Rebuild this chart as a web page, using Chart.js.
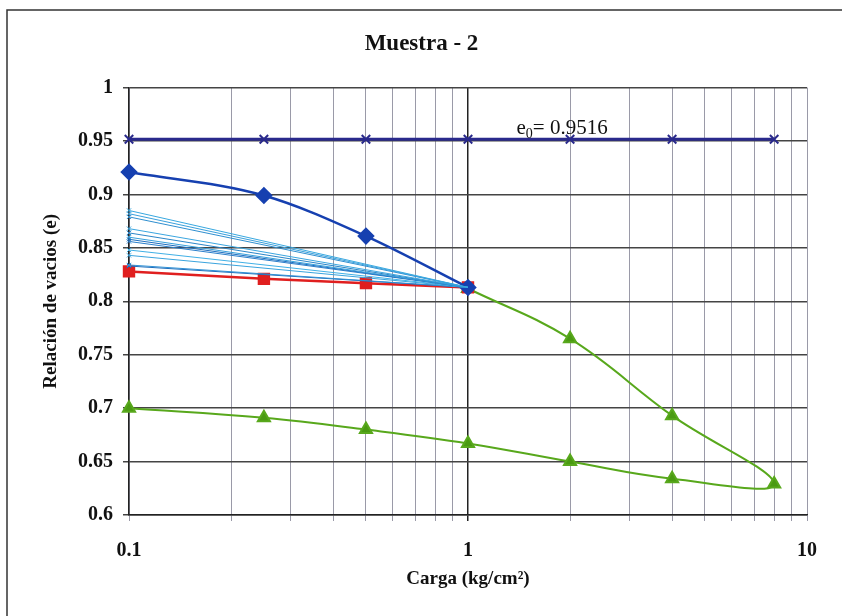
<!DOCTYPE html>
<html>
<head>
<meta charset="utf-8">
<script src="https://cdn.jsdelivr.net/npm/chart.js@4/dist/chart.umd.min.js"></script>
<style>
  html, body { margin: 0; padding: 0; background: #fff; }
  #wrap { width: 842px; height: 616px; position: relative; }
</style>
</head>
<body>
<div id="wrap"><canvas id="chart" width="842" height="616"></canvas></div>
<script>
// carga (kg/cm2)
const cargaInicial = [0.1, 0.25, 0.5, 1, 2, 4, 8];
const e0Valores = [0.9516, 0.9516, 0.9516, 0.9516, 0.9516, 0.9516, 0.9516];

const cargaCarga1 = [0.1, 0.25, 0.5, 1];
const eCarga1 = [0.921, 0.899, 0.861, 0.813];

const cargaDescarga1 = [0.1, 0.25, 0.5, 1];
const eDescarga1 = [0.828, 0.821, 0.817, 0.813];

const cargaRecarga = [1, 2, 4, 8, 4, 2, 1, 0.5, 0.25, 0.1];
const eRecarga = [0.812, 0.765, 0.693, 0.629, 0.634, 0.650, 0.667, 0.680, 0.691, 0.700];

// lineas finas desde 0.1 hasta 1
const eLineasIniciales = [0.885, 0.882, 0.879, 0.868, 0.864, 0.860, 0.858, 0.856, 0.848, 0.843, 0.834, 0.833];
const eLineasFinal = 0.813;
const coloresLineas = ["#38a8e0", "#3aa0dc", "#2f8fd0", "#3ba6e0", "#2b86c8", "#36a0dc", "#1f6fc0", "#2a7fcc", "#40b0e6", "#3aa4de", "#2f90d4", "#1e6cbc"];

const ticksX = [0.1, 0.2, 0.3, 0.4, 0.5, 0.6, 0.7, 0.8, 0.9, 1, 2, 3, 4, 5, 6, 7, 8, 9, 10];
const etiquetasX = { 0.1: "0.1", 1: "1", 10: "10" };

const fuente = "'Liberation Serif', 'Times New Roman', serif";

function pares(xs, ys) {
  return xs.map((x, i) => ({ x: x, y: ys[i] }));
}

const datasets = [];

eLineasIniciales.forEach((e, i) => {
  datasets.push({
    data: pares([0.1, 1], [e, eLineasFinal]),
    borderColor: coloresLineas[i],
    backgroundColor: coloresLineas[i],
    borderWidth: 1,
    pointStyle: "crossRot",
    pointRadius: [3, 0],
    pointBorderWidth: 1,
    clip: false,
  });
});

datasets.push({
  data: pares(cargaInicial, e0Valores),
  borderColor: "#2a2a8c",
  backgroundColor: "#2a2a8c",
  borderWidth: 3,
  pointStyle: "crossRot",
  pointRadius: 6,
  pointBorderWidth: 2,
  clip: false,
});

datasets.push({
  data: pares(cargaCarga1, eCarga1),
  borderColor: "#1640b0",
  backgroundColor: "#1640b0",
  borderWidth: 2.5,
  pointStyle: "rectRot",
  pointRadius: 7,
  cubicInterpolationMode: "monotone",
  clip: false,
});

datasets.push({
  data: pares(cargaDescarga1, eDescarga1),
  borderColor: "#e01f1f",
  backgroundColor: "#e01f1f",
  borderWidth: 2.5,
  pointStyle: "rect",
  pointRadius: 7,
  clip: false,
});

datasets.push({
  data: pares(cargaRecarga, eRecarga),
  borderColor: "#58a81c",
  backgroundColor: "#4a9a12",
  borderWidth: 2,
  pointStyle: "triangle",
  pointRadius: 7,
  tension: 0.4,
  clip: false,
});

const marco = {
  id: "marco",
  beforeDraw(chart) {
    const ctx = chart.ctx;
    ctx.save();
    ctx.fillStyle = "#fff";
    ctx.fillRect(0, 0, chart.width, chart.height);
    ctx.strokeStyle = "#333";
    ctx.lineWidth = 1.5;
    ctx.beginPath();
    ctx.moveTo(7, 616);
    ctx.lineTo(7, 10);
    ctx.lineTo(842, 10);
    ctx.stroke();
    ctx.restore();
  },
  afterDatasetsDraw(chart) {
    const ctx = chart.ctx;
    const x = chart.scales.x.getPixelForValue(1.39);
    const y = chart.scales.y.getPixelForValue(0.9565);
    ctx.save();
    ctx.fillStyle = "#111";
    ctx.font = "21px " + fuente;
    ctx.textBaseline = "alphabetic";
    ctx.fillText("e", x, y);
    const w = ctx.measureText("e").width;
    ctx.font = "14px " + fuente;
    ctx.fillText("0", x + w, y + 4);
    const w2 = ctx.measureText("0").width;
    ctx.font = "21px " + fuente;
    ctx.fillText("= 0.9516", x + w + w2, y);
    ctx.restore();
  }
};

new Chart(document.getElementById("chart"), {
  type: "line",
  data: { datasets: datasets },
  plugins: [marco],
  options: {
    responsive: false,
    animation: false,
    layout: { padding: { top: 3, right: 35, left: 36, bottom: 26 } },
    plugins: {
      legend: { display: false },
      tooltip: { enabled: false },
      title: {
        display: true,
        text: "Muestra - 2",
        color: "#111",
        font: { family: fuente, size: 23, weight: "bold" },
        padding: { top: 27, bottom: 30 },
      },
    },
    scales: {
      x: {
        type: "logarithmic",
        min: 0.1,
        max: 10,
        afterBuildTicks(scale) {
          scale.ticks = ticksX.map(v => ({ value: v }));
        },
        afterFit(scale) { scale.height = 75; },
        ticks: {
          autoSkip: false,
          maxRotation: 0,
          color: "#111",
          padding: 18,
          font: { family: fuente, size: 20, weight: "bold" },
          callback: (v) => etiquetasX[v] || "",
        },
        grid: {
          color: (c) => (c.tick && c.tick.value === 1 ? "#222" : "#9a9aa8"),
          lineWidth: (c) => (c.tick && c.tick.value === 1 ? 1.5 : 1),
          tickLength: 6,
        },
        border: { color: "#222", width: 1.5 },
        title: {
          display: true,
          text: "Carga (kg/cm²)",
          color: "#111",
          font: { family: fuente, size: 19, weight: "bold" },
          padding: { top: 4, bottom: 0 },
        },
      },
      y: {
        min: 0.6,
        max: 1,
        afterFit(scale) { scale.width = 93; },
        ticks: {
          stepSize: 0.05,
          color: "#111",
          padding: 10,
          font: { family: fuente, size: 20, weight: "bold" },
          callback: (v) => String(Math.round(v * 100) / 100),
        },
        grid: {
          color: "#444",
          lineWidth: 1.5,
          tickLength: 6,
        },
        border: { color: "#222", width: 1.5 },
        title: {
          display: true,
          text: "Relación de vacios (e)",
          color: "#111",
          font: { family: fuente, size: 19, weight: "bold" },
          padding: { bottom: 6 },
        },
      },
    },
  },
});
</script>
</body>
</html>
